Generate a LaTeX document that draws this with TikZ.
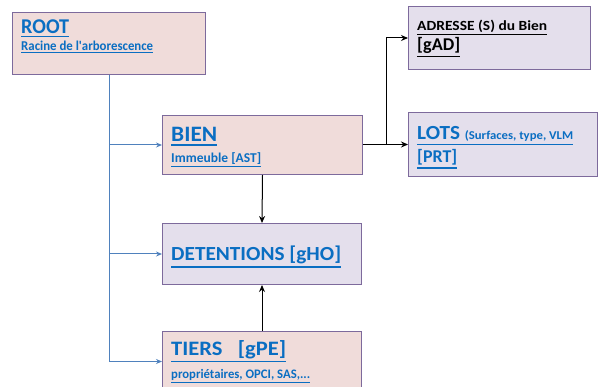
\documentclass[tikz,border=0pt]{standalone}
\usepackage{fontspec}
\usepackage{graphicx}
\setmainfont{Carlito}
\usetikzlibrary{arrows.meta}
\definecolor{pinkfill}{HTML}{F0DCDA}
\definecolor{lilacfill}{HTML}{E4DFEC}
\definecolor{boxline}{HTML}{7D6A9C}
\definecolor{linkblue}{HTML}{0A6EC2}
\definecolor{connblue}{HTML}{4F81BD}
\newcommand{\fs}[1]{\fontsize{#1}{#1}\selectfont}
% underline that follows the current font size and colour
\newcommand{\ulin}[1]{\setbox0\hbox{#1}\vtop{\copy0\kern0.1em\hrule height 0.07em depth 0pt width \wd0}}
% underlined label set at a given size, stretched to a given width
\newcommand{\wtxt}[3]{\resizebox{#1pt}{\height}{\fs{#2}\ulin{#3}}}
\tikzset{
  box/.style={draw=boxline, line width=1pt, rectangle, inner sep=0pt, anchor=north west},
  pinkbox/.style={box, fill=pinkfill},
  lilacbox/.style={box, fill=lilacfill},
  txt/.style={anchor=base west, inner sep=0pt, font=\bfseries},
  bluetxt/.style={txt, text=linkblue},
  blueconn/.style={draw=connblue, line width=1pt, -{Stealth[length=6pt,width=5pt]}},
  blackconn/.style={draw=black, line width=1pt, -{Stealth[length=7pt,width=6pt]}}
}
\begin{document}
\begin{tikzpicture}[x=1pt,y=-1pt]
\useasboundingbox (0,0) rectangle (600,387);
\clip (0,0) rectangle (600,387);
% boxes
\node[pinkbox, minimum width=193, minimum height=62] (root) at (12,12) {};
\node[pinkbox, minimum width=200, minimum height=59] (bien) at (162,115) {};
\node[lilacbox, minimum width=182, minimum height=63] (adresse) at (408,6) {};
\node[lilacbox, minimum width=189, minimum height=64] (lots) at (408,112) {};
\node[lilacbox, minimum width=199, minimum height=61] (detentions) at (162,223) {};
\node[pinkbox, minimum width=199, minimum height=60] (tiers) at (162,331) {};
% texts
\node[bluetxt] (rootT) at (21,33.5) {\wtxt{48}{21}{ROOT}};
\node[bluetxt] (rootS) at (21,50.5) {\wtxt{132}{13.5}{Racine de l\textquotesingle arborescence}};
\node[bluetxt] (bienT) at (171,142) {\wtxt{46}{22}{BIEN}};
\node[bluetxt] (bienS) at (171,163) {\wtxt{90}{13.5}{Immeuble [AST]}};
\node[txt] (adrT) at (417,30.5) {\wtxt{130}{14}{ADRESSE (S) du Bien}};
\node[txt] (adrS) at (417,51) {\wtxt{43}{18}{[gAD]}};
\node[bluetxt] (lotsT) at (417,140) {\wtxt{156}{20}{LOTS {\fs{12}(Surfaces, type, VLM}}};
\node[bluetxt] (lotsS) at (417,163) {\wtxt{40}{18}{[PRT]}};
\node[bluetxt] (detT) at (171,261) {\wtxt{170}{20}{DETENTIONS [gHO]}};
\node[bluetxt] (tiersT) at (171,355.5) {\wtxt{115}{20.5}{TIERS\hspace{14pt}[gPE]}};
\node[bluetxt] (tiersS) at (171,378.5) {\wtxt{139}{13}{propriétaires, OPCI, SAS,...}};
% connectors
\draw[blueconn] (root.south) |- (bien.west);
\draw[blueconn] (root.south) |- (detentions.west);
\draw[blueconn] (root.south) |- (tiers.west);
\draw[blackconn] (bien.south) -- (detentions.north);
\draw[blackconn] (tiers.north) -- (detentions.south);
\draw[blackconn] (bien.east) -- ++(23,0) |- (adresse.west);
\draw[blackconn] (bien.east) -- ++(23,0) |- (lots.west);
\end{tikzpicture}
\end{document}
